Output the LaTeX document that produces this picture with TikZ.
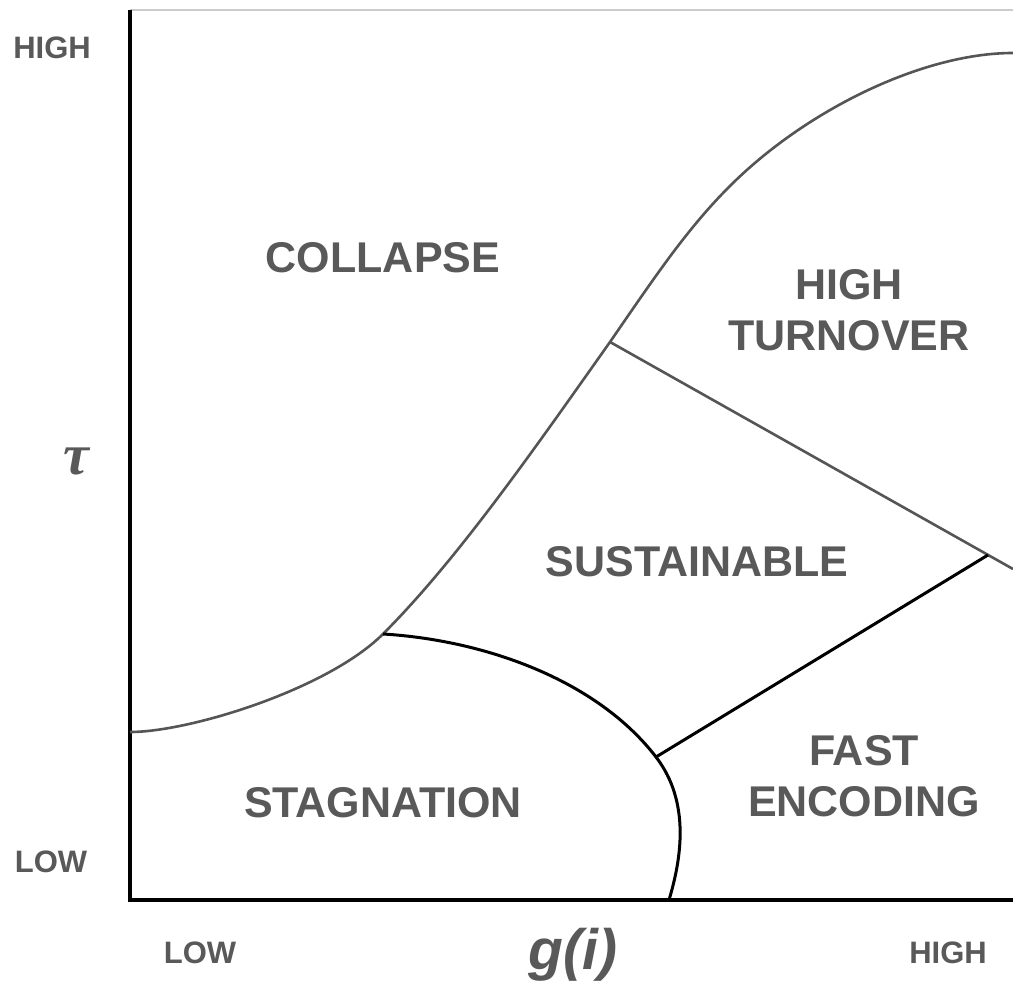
\documentclass[tikz,border=0pt]{standalone}
\usepackage{fontspec}
\setmainfont{Liberation Sans}
\newfontfamily\taufont{Liberation Serif}
\begin{document}
\begin{tikzpicture}[x=1pt,y=-1pt,
  region/.style={font=\fontsize{43}{51}\selectfont\bfseries, text=labelgray, inner sep=0pt, align=center},
  axislabel/.style={font=\fontsize{31}{36}\selectfont\bfseries, text=labelgray, inner sep=0pt},
  grayline/.style={draw=curvegray, line width=2.6pt},
  blackline/.style={draw=black, line width=3pt},
  axisline/.style={draw=black, line width=3.4pt}]
\definecolor{labelgray}{HTML}{595959}
\definecolor{curvegray}{HTML}{555555}
\definecolor{framegray}{HTML}{CCCCCC}
\useasboundingbox (0,0) rectangle (1013,984);
\fill[white] (0,0) rectangle (1013,984);

% frame / axes
\coordinate (origin) at (130,900);
\coordinate (ytop) at (130,10);
\coordinate (xend) at (1013,900);
\coordinate (topright) at (1013,10);
\draw[framegray, line width=2pt] (ytop) -- (topright);
\draw[axisline] (ytop) -- (origin) -- (xend);

% junctions
\coordinate (curvestart) at (130,732);
\coordinate (jlow) at (383,634);
\coordinate (jmid) at (610,342);
\coordinate (jbend) at (733,183);
\coordinate (curveend) at (1013,53);
\coordinate (jright) at (988,555);
\coordinate (lineend) at (1013,569);
\coordinate (jarc) at (656,757);
\coordinate (arcend) at (669,900);

% sigmoid boundary
\draw[grayline] (curvestart) .. controls (190,732) and (328,689) .. (jlow)
  .. controls (458,559) and (535,448) .. (jmid)
  .. controls (655,276.75) and (688,227) .. (jbend)
  .. controls (808,109.5) and (923,53) .. (curveend);

% high turnover / sustainable boundary
\draw[grayline] (jmid) -- (lineend);

% fast encoding / sustainable boundary
\draw[blackline] (jright) -- (jarc);

% stagnation boundary
\draw[blackline] (jlow) .. controls (483,640) and (596,679) .. (jarc)
  .. controls (691,802.5) and (681,860) .. (arcend);

% region labels
\node[region] (collapse) at (383,258) {COLLAPSE};
\node[region] (turnover) at (849,310) {HIGH\\TURNOVER};
\node[region] (sustain) at (697,562) {SUSTAINABLE};
\node[region] (stag) at (383,803) {STAGNATION};
\node[region] (fast) at (864,776) {FAST\\ENCODING};

% axis labels
\node[axislabel] (yhigh) at (52,48) {HIGH};
\node[axislabel] (ylow) at (51,862) {LOW};
\node[axislabel] (xlow) at (200,953) {LOW};
\node[axislabel] (xhigh) at (948,953) {HIGH};
\node[inner sep=0pt, text=labelgray, font=\taufont\fontsize{58}{60}\selectfont\bfseries\itshape] (tau) at (76,461) {τ};
\node[inner sep=0pt, text=labelgray, font=\fontsize{57}{60}\selectfont\bfseries\itshape] (gi) at (573,955) {g(i)};
\end{tikzpicture}
\end{document}
